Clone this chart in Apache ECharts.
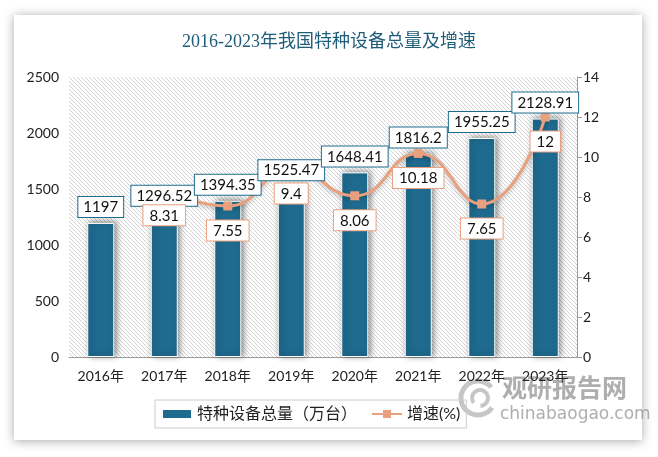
<!DOCTYPE html>
<html><head><meta charset="utf-8">
<script src="https://cdn.jsdelivr.net/npm/echarts@6/dist/echarts.min.js"></script>
<style>html,body{margin:0;padding:0;background:#fff}#c{width:658px;height:457px}</style>
</head><body><div id="c"></div>
<script>
const categories = ['2016年','2017年','2018年','2019年','2020年','2021年','2022年','2023年'];
const totalValues = [1197, 1296.52, 1394.35, 1525.47, 1648.41, 1816.2, 1955.25, 2128.91];
const growthValues = ['-', 8.31, 7.55, 9.4, 8.06, 10.18, 7.65, 12];
const leftTicks = [0, 500, 1000, 1500, 2000, 2500];
const rightTicks = [0, 2, 4, 6, 8, 10, 12, 14];
const titleText = '2016-2023年我国特种设备总量及增速';
const seriesNames = ['特种设备总量（万台）', '增速(%)'];

const barColor = '#1E6B8F';
const lineColor = '#E9A07E';
const cjk = '"Lato","Noto Sans CJK SC",sans-serif';

const pat = document.createElement('canvas');
pat.width = 4; pat.height = 4;
const pc = pat.getContext('2d');
pc.fillStyle = '#fff'; pc.fillRect(0,0,4,4);
pc.strokeStyle = '#d4d4d4'; pc.lineWidth = 1;
pc.beginPath(); pc.moveTo(-1,-1); pc.lineTo(5,5); pc.stroke();
pc.beginPath(); pc.moveTo(-1,3); pc.lineTo(1,5); pc.stroke();
pc.beginPath(); pc.moveTo(3,-1); pc.lineTo(5,1); pc.stroke();

const barLabel = {show:true, position:'top', distance:6, color:'#111', fontSize:15, fontFamily:cjk,
  backgroundColor:'#fff', borderColor: barColor, borderWidth:1, padding:[3,5,2,5]};
const lineLabel = {show:true, position:'bottom', distance:10, color:'#111', fontSize:15, fontFamily:cjk,
  backgroundColor:'#fff', borderColor: lineColor, borderWidth:1, padding:[3,6,2,6], opacity:1};

const chart = echarts.init(document.getElementById('c'), null, {renderer:'canvas'});
chart.setOption({
  animation: false,
  backgroundColor: '#fff',
  graphic: [
    {type:'rect', z:-10, shape:{x:14,y:15,width:628,height:425}, style:{fill:'#fff', shadowBlur:10, shadowColor:'rgba(0,0,0,0.35)', shadowOffsetX:0, shadowOffsetY:1}},
    {type:'arc', z:-5, shape:{cx:478, cy:398, r:17, startAngle:0.6, endAngle:5.6}, style:{stroke:'rgba(160,160,160,0.6)', lineWidth:5, fill:null}},
    {type:'arc', z:-5, shape:{cx:480, cy:398, r:8, startAngle:2.5, endAngle:7.8}, style:{stroke:'rgba(160,160,160,0.6)', lineWidth:4, fill:null}},
    {type:'text', z:-5, left:502, top:375, style:{text:'观研报告网', fill:'rgba(140,140,140,0.7)', font:'bold 25px "Noto Sans CJK SC"'}},
    {type:'text', z:-5, left:500, top:406, style:{text:'chinabaogao.com', fill:'rgba(140,140,140,0.7)', font:'17px "DejaVu Sans"'}}
  ],
  title: {
    text: titleText, left: 'center', top: 28,
    textStyle: {color:'#1F5C7A', fontSize:18, fontWeight:'normal', fontFamily:'"Liberation Serif","Noto Sans CJK SC",serif'}
  },
  legend: {
    left: 155, top: 400,
    borderColor: '#cccccc', borderWidth: 1, padding: [6,6,6,6],
    itemGap: 14, itemWidth: 30, itemHeight: 10,
    textStyle: {fontSize: 16, color:'#222', fontFamily: cjk},
    data: [
      {name: seriesNames[0], icon:'rect'},
      {name: seriesNames[1]}
    ]
  },
  grid: {
    left: 69, right: 81, top: 77, bottom: 100, show: true,
    borderWidth: 0,
    backgroundColor: {image: pat, repeat: 'repeat'}
  },
  xAxis: {
    type: 'category', data: categories,
    axisLine: {lineStyle:{color:'#999'}},
    axisTick: {show:false},
    axisLabel: {color:'#222', fontSize:14, fontFamily:cjk, margin:12}
  },
  yAxis: [
    {type:'value', min:leftTicks[0], max:leftTicks[leftTicks.length-1], interval:500,
     splitLine:{show:false}, axisLine:{show:false}, axisTick:{show:false},
     axisLabel:{color:'#222', fontSize:14, fontFamily:cjk, margin:10, formatter: v => String(v)}},
    {type:'value', min:rightTicks[0], max:rightTicks[rightTicks.length-1], interval:2,
     splitLine:{show:false}, axisLine:{show:true, lineStyle:{color:'#999'}},
     axisTick:{show:true, length:5, lineStyle:{color:'#999'}},
     axisLabel:{color:'#222', fontSize:14, fontFamily:cjk, margin:6}}
  ],
  series: [
    {
      name: seriesNames[0], type:'bar', data: totalValues, barWidth: 27,
      itemStyle: {color: barColor, borderColor:'#fff', borderWidth:1,
        shadowColor:'rgba(0,0,0,0.45)', shadowBlur:6, shadowOffsetX:2, shadowOffsetY:-1},
      z: 1
    },
    {
      name: seriesNames[1], type:'line', yAxisIndex:1, data: growthValues, smooth: 0.5,
      symbol:'rect', symbolSize: 9, showSymbol: true,
      lineStyle: {color: lineColor, width: 3, shadowColor:'rgba(0,0,0,0.25)', shadowBlur:4, shadowOffsetY:2},
      itemStyle: {color: lineColor},
      z: 2
    },
    {
      name: 'barLabels', type:'bar', data: totalValues, barWidth: 27, barGap:'-100%',
      itemStyle: {color:'rgba(0,0,0,0)'}, label: barLabel, silent:true, z: 3
    },
    {
      name: 'lineLabels', type:'line', yAxisIndex:1, data: growthValues, smooth: 0.5,
      symbol:'rect', symbolSize: 9, showSymbol: true,
      lineStyle: {color:'rgba(0,0,0,0)', width:0}, itemStyle:{color:'rgba(0,0,0,0)'}, label: lineLabel, silent:true, z: 4
    }
  ]
});
</script></body></html>
